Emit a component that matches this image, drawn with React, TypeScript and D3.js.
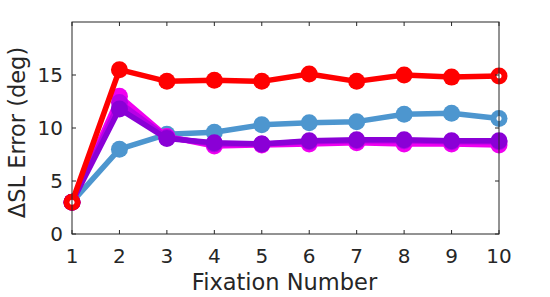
import React from 'react';
import * as d3 from 'd3';

const fixations = [1, 2, 3, 4, 5, 6, 7, 8, 9, 10];
const blueVals = [3.0, 8.0, 9.4, 9.6, 10.3, 10.5, 10.6, 11.3, 11.4, 10.9];
const magentaVals = [3.0, 13.0, 9.2, 8.3, 8.4, 8.5, 8.6, 8.5, 8.5, 8.4];
const violetVals = [3.0, 12.4, 9.1, 8.5, 8.5, 8.7, 8.8, 8.8, 8.7, 8.7];
const purpleVals = [3.0, 11.8, 9.0, 8.6, 8.5, 8.8, 8.9, 8.9, 8.8, 8.8];
const redVals = [3.0, 15.5, 14.4, 14.5, 14.4, 15.1, 14.4, 15.0, 14.8, 14.9];
const yTicks = [0, 5, 10, 15];

const series = [
  { name: 'blue', values: blueVals, color: '#4d96cf', hollowEnd: true },
  { name: 'magenta', values: magentaVals, color: '#f000f0', hollowEnd: false },
  { name: 'violet', values: violetVals, color: '#b800e6', hollowEnd: false },
  { name: 'purple', values: purpleVals, color: '#8a00d6', hollowEnd: false },
  { name: 'red', values: redVals, color: '#ff0000', hollowEnd: true },
];

export default function App() {
  const width = 550;
  const height = 297;
  const left = 72, right = 499, top = 22, bottom = 234;

  const x = d3.scaleLinear().domain([1, 10]).range([left, right]);
  const y = d3.scaleLinear().domain([0, 20]).range([bottom, top]);

  const line = d3.line<number>()
    .x((_, i) => x(fixations[i]))
    .y(d => y(d));

  const axisColor = '#262626';
  const font = 'DejaVu Sans, sans-serif';

  return (
    <svg width={width} height={height} style={{ position: 'absolute', left: 0, top: 0 }}>
      <rect x={0} y={0} width={width} height={height} fill="#fff" />
      <g>
        {series.map(s => (
          <g key={s.name}>
            <path d={line(s.values) || ''} fill="none" stroke={s.color} strokeWidth={5.5} strokeLinejoin="round" />
            {s.values.map((v, i) => (
              <circle key={i} cx={x(fixations[i])} cy={y(v)} r={8.5} fill={s.color} />
            ))}
            {s.hollowEnd && (
              <circle cx={x(10)} cy={y(s.values[9])} r={2.5} fill="#fff" />
            )}
            {s.name === 'red' && (
              <circle cx={x(1)} cy={y(s.values[0])} r={2.5} fill="#fff" />
            )}
          </g>
        ))}
      </g>
      <rect x={left} y={top} width={right - left} height={bottom - top} fill="none" stroke={axisColor} strokeWidth={1} />
      {fixations.map(f => (
        <g key={f}>
          <line x1={x(f)} x2={x(f)} y1={bottom} y2={bottom - 4} stroke={axisColor} />
          <line x1={x(f)} x2={x(f)} y1={top} y2={top + 4} stroke={axisColor} />
          <text x={x(f)} y={263} textAnchor="middle" fontSize={20} fontFamily={font} fill={axisColor}>{f}</text>
        </g>
      ))}
      {yTicks.map(t => (
        <g key={t}>
          <line x1={left} x2={left + 4} y1={y(t)} y2={y(t)} stroke={axisColor} />
          <line x1={right} x2={right - 4} y1={y(t)} y2={y(t)} stroke={axisColor} />
          <text x={63} y={y(t) + 7} textAnchor="end" fontSize={20} fontFamily={font} fill={axisColor}>{t}</text>
        </g>
      ))}
      <text x={(left + right) / 2 - 1} y={290} textAnchor="middle" fontSize={22.5} fontFamily={font} fill={axisColor}>Fixation Number</text>
      <text transform={`translate(25, ${(40 + 225) / 2}) rotate(-90)`} textAnchor="middle" fontSize={22.5} fontFamily={font} fill={axisColor}>ΔSL Error (deg)</text>
    </svg>
  );
}
